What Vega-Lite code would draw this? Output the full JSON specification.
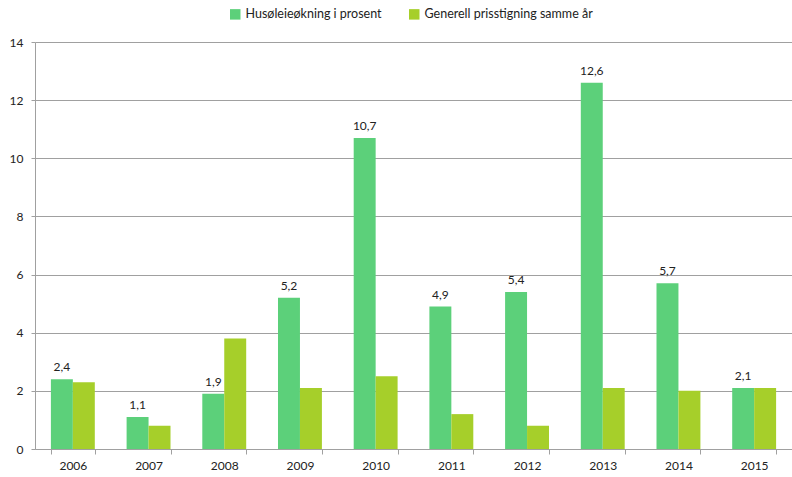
{
  "$schema": "https://vega.github.io/schema/vega-lite/v6.json",
  "autosize": {"type": "none"},
  "width": 757,
  "height": 407,
  "padding": {"left": 35, "top": 42, "right": 0, "bottom": 28},
  "background": "white",
  "config": {
    "view": {"stroke": null},
    "font": "Lato",
    "locale": {"number": {"decimal": ",", "thousands": " ", "grouping": [3], "currency": ["", " kr"]}},
    "axis": {"labelFont": "Lato", "labelFontSize": 12, "labelColor": "#222222", "domainColor": "#a0a0a0", "tickColor": "#a0a0a0", "gridColor": "#a0a0a0"},
    "legend": {"labelFont": "Lato", "labelFontSize": 12.5, "labelColor": "#222222", "labelLimit": 400}
  },
  "data": {
    "values": [
      {"year": "2006", "series": "Husøleieøkning i prosent", "value": 2.4},
      {"year": "2007", "series": "Husøleieøkning i prosent", "value": 1.1},
      {"year": "2008", "series": "Husøleieøkning i prosent", "value": 1.9},
      {"year": "2009", "series": "Husøleieøkning i prosent", "value": 5.2},
      {"year": "2010", "series": "Husøleieøkning i prosent", "value": 10.7},
      {"year": "2011", "series": "Husøleieøkning i prosent", "value": 4.9},
      {"year": "2012", "series": "Husøleieøkning i prosent", "value": 5.4},
      {"year": "2013", "series": "Husøleieøkning i prosent", "value": 12.6},
      {"year": "2014", "series": "Husøleieøkning i prosent", "value": 5.7},
      {"year": "2015", "series": "Husøleieøkning i prosent", "value": 2.1},
      {"year": "2006", "series": "Generell prisstigning samme år", "value": 2.3},
      {"year": "2007", "series": "Generell prisstigning samme år", "value": 0.8},
      {"year": "2008", "series": "Generell prisstigning samme år", "value": 3.8},
      {"year": "2009", "series": "Generell prisstigning samme år", "value": 2.1},
      {"year": "2010", "series": "Generell prisstigning samme år", "value": 2.5},
      {"year": "2011", "series": "Generell prisstigning samme år", "value": 1.2},
      {"year": "2012", "series": "Generell prisstigning samme år", "value": 0.8},
      {"year": "2013", "series": "Generell prisstigning samme år", "value": 2.1},
      {"year": "2014", "series": "Generell prisstigning samme år", "value": 2.0},
      {"year": "2015", "series": "Generell prisstigning samme år", "value": 2.1}
    ]
  },
  "encoding": {
    "x": {
      "field": "year", "type": "nominal", "title": null,
      "scale": {"paddingInner": 0.42, "paddingOuter": 0.21},
      "axis": {"labelAngle": 0, "tickBand": "extent", "tickSize": 5, "labelPadding": 6, "grid": false}
    },
    "xOffset": {
      "field": "series", "type": "nominal",
      "scale": {"domain": ["Husøleieøkning i prosent", "Generell prisstigning samme år"], "paddingInner": 0, "paddingOuter": 0}
    },
    "y": {
      "field": "value", "type": "quantitative", "title": null,
      "scale": {"domain": [0, 14], "nice": false},
      "axis": {"values": [0, 2, 4, 6, 8, 10, 12, 14], "tickSize": 4, "labelPadding": 8, "grid": true, "format": "d"}
    }
  },
  "layer": [
    {
      "mark": {"type": "bar"},
      "encoding": {
        "color": {
          "field": "series", "type": "nominal",
          "scale": {"domain": ["Husøleieøkning i prosent", "Generell prisstigning samme år"], "range": ["#5cd07a", "#a6cf2a"]},
          "legend": {"title": null, "orient": "none", "legendX": 194, "legendY": -34, "direction": "horizontal", "symbolType": "square", "symbolSize": 110, "symbolStrokeWidth": 0, "columnPadding": 26, "labelOffset": 4}
        }
      }
    },
    {
      "transform": [{"filter": "datum.series === 'Husøleieøkning i prosent'"}],
      "mark": {"type": "text", "dy": -12, "fontSize": 12, "color": "#222222"},
      "encoding": {
        "text": {"field": "value", "type": "quantitative", "format": ".1f"}
      }
    }
  ]
}
